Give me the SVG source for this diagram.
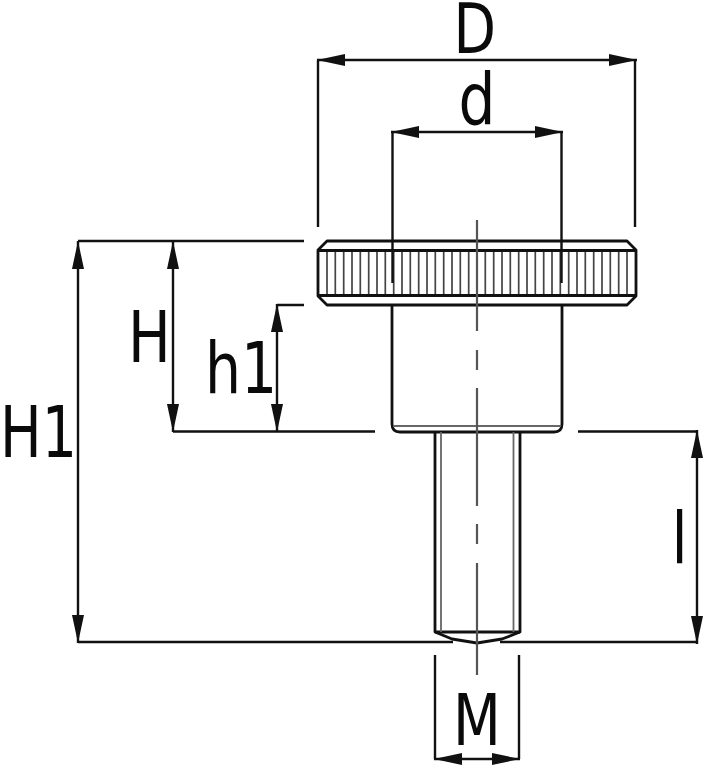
<svg xmlns="http://www.w3.org/2000/svg" width="706" height="770" viewBox="0 0 706 770">
<style>
.o{fill:none;stroke:#111;stroke-width:2.8;stroke-linejoin:round}
.t{fill:none;stroke:#666;stroke-width:1.8}
.k{fill:none;stroke:#444;stroke-width:1.7}
.c{fill:none;stroke:#555;stroke-width:2.2}
.d{fill:none;stroke:#111;stroke-width:2.4}
.a{fill:#111;stroke:none}
text{font-family:"DejaVu Sans","Liberation Sans",sans-serif;font-size:71px;fill:#0a0a0a}
</style>
<defs>
<marker id="ah" viewBox="0 0 28 12" refX="28" refY="6" markerWidth="28" markerHeight="12" markerUnits="userSpaceOnUse" orient="auto-start-reverse"><path class="a" d="M0 0L28 6L0 12Z"/></marker>
</defs>
<rect width="706" height="770" fill="#fff"/>
<g id="part">
<path class="k" d="M327 251V296M335.300 251V296M343.700 251V296M352 251V296M360.300 251V296M368.700 251V296M377 251V296M385.300 251V296M393.700 251V296M402 251V296M410.300 251V296M418.700 251V296M427 251V296M435.300 251V296M443.700 251V296M452 251V296M460.300 251V296M468.700 251V296M477 251V296M485.300 251V296M493.700 251V296M502 251V296M510.300 251V296M518.700 251V296M527 251V296M535.300 251V296M543.700 251V296M552 251V296M560.300 251V296M568.700 251V296M577 251V296M585.300 251V296M593.700 251V296M602 251V296M610.300 251V296M618.700 251V296M627 251V296"/>
<path class="o" d="M327 241H627L636 250V296L627 305H327L318 296V250Z"/>
<path class="o" d="M318 250.500H636M318 295.500H636"/>
<path class="o" d="M392 305V424Q392 432 400 432H554Q562 432 562 424V305"/>
<path class="t" d="M393 426H561"/>
<path class="o" d="M435 432V632L452 639L477 643L502 639L520 632V432"/>
<path class="o" d="M435 632H520"/>
<path class="t" d="M441 432V632M513.500 432V632"/>
</g>
<g id="centerline"><path class="c" d="M477 220V331M477 350V370M477 388V506M477 524V544M477 563V675"/></g>
<g id="connectors">
<path class="d" d="M318 60V227M635 60V227M392.500 132V283M561.500 132V283"/>
<path class="d" d="M78 241H304M173 431.500H375M277 305H304M578 431.500H697M78 642H453M500 642H697M435 655V759M519 655V759"/>
<path class="d" marker-start="url(#ah)" marker-end="url(#ah)" d="M317 60H637"/>
<path class="d" marker-start="url(#ah)" marker-end="url(#ah)" d="M391 132H563"/>
<path class="d" marker-start="url(#ah)" marker-end="url(#ah)" d="M434 759H520"/>
<path class="d" marker-start="url(#ah)" marker-end="url(#ah)" d="M78 241V643"/>
<path class="d" marker-start="url(#ah)" marker-end="url(#ah)" d="M173 241V432"/>
<path class="d" marker-start="url(#ah)" marker-end="url(#ah)" d="M277 304V432"/>
<path class="d" marker-start="url(#ah)" marker-end="url(#ah)" d="M697 430V644"/>
</g>
<g id="labels">
<text transform="translate(453.500 53) scale(.8 1)" style="font-size:69px">D</text>
<text transform="translate(458.500 124) scale(.82 1)">d</text>
<text transform="translate(128 362) scale(.8 1)">H</text>
<text transform="translate(205 393) scale(.8 1)">h1</text>
<text transform="translate(0 457) scale(.78 1)">H1</text>
<text transform="translate(671.500 563) scale(.82 1)">l</text>
<text transform="translate(453 745) scale(.78 1)">M</text>
</g>
</svg>
